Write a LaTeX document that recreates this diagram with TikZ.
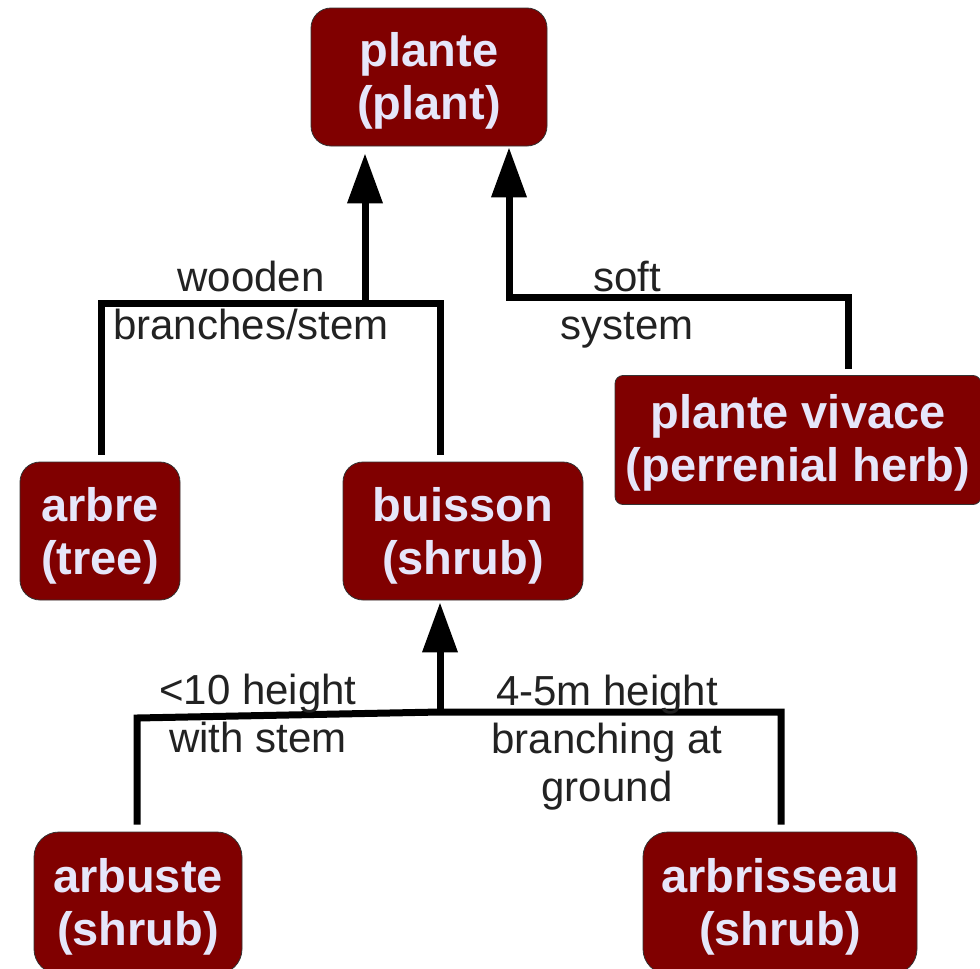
\documentclass[tikz,border=0pt]{standalone}
\usepackage{fontspec}
\setmainfont{Liberation Sans}
\usetikzlibrary{arrows.meta}
\definecolor{boxfill}{HTML}{800000}
\definecolor{boxtext}{HTML}{E6E6FA}
\definecolor{labeltext}{HTML}{222222}
% two centred lines, lowered a little inside their box
\newcommand\conceptlines[2][5pt]{\raisebox{-#1}[\height][\depth]{\begin{tabular}{@{}c@{}}#2\end{tabular}}}
\begin{document}
\begin{tikzpicture}[x=1pt,y=-1pt,
  concept/.style={draw=black!80, line width=0.8pt, fill=boxfill, rounded corners=20pt,
    inner sep=0pt, text=boxtext,
    font=\fontsize{47}{53}\selectfont\bfseries},
  edgelabel/.style={inner sep=0pt, align=center, text=labeltext,
    font=\fontsize{42}{48}\selectfont},
  conn/.style={line width=7pt, draw=black},
  arr/.style={conn, -{Triangle[width=34pt,length=50pt]}}]
\useasboundingbox (0,0) rectangle (980,969);

% concept boxes
\node[concept, minimum width=236pt, minimum height=138pt] (plante) at (429,77) {\conceptlines{plante\\(plant)}};
\node[concept, minimum width=160pt, minimum height=138pt] (arbre) at (100,531) {\conceptlines[6pt]{arbre\\(tree)}};
\node[concept, minimum width=240pt, minimum height=138pt] (buisson) at (463,531) {\conceptlines[6pt]{buisson\\(shrub)}};
\node[concept, rounded corners=8pt, minimum width=366pt, minimum height=129pt] (vivace) at (798,440) {\conceptlines[4pt]{plante vivace\\(perrenial herb)}};
\node[concept, rounded corners=25pt, minimum width=208pt, minimum height=142pt] (arbuste) at (138,903) {\conceptlines{arbuste\\(shrub)}};
\node[concept, rounded corners=25pt, minimum width=274pt, minimum height=142pt] (arbrisseau) at (780,903) {\conceptlines{arbrisseau\\(shrub)}};

% junction points
\coordinate (wl) at (101,303);
\coordinate (wm) at (365,303);
\coordinate (wr) at (440,303);
\coordinate (sl) at (509,297);
\coordinate (sr) at (848,297);
\coordinate (bl) at (137,718);
\coordinate (bm) at (440,712);
\coordinate (br) at (781,712);

% wooden branches/stem
\draw[conn, shorten <=7pt, shorten >=7pt] (wl |- arbre.north) -- (wl) -- (wr) -- (wr |- buisson.north);
\draw[arr, shorten >=7pt] (wm) -- (wm |- plante.south);

% soft system
\draw[arr, shorten <=6pt, shorten >=1pt] (sr |- vivace.north) -- (sr) -- (sl) -- (sl |- plante.south);

% shrub kinds
\draw[conn, shorten <=7pt, shorten >=7pt] (bl |- arbuste.north) -- (bl) -- (bm) -- (br) -- (br |- arbrisseau.north);
\draw[arr, shorten >=2pt] (bm) -- (bm |- buisson.south);

% edge labels
\node[edgelabel] (lwood) at (251,300) {wooden\\branches/stem};
\node[edgelabel] (lsoft) at (627,305) {soft\\system};
\node[edgelabel] (lstem) at (258,713) {<10 height\\with stem};
\node[edgelabel] (lground) at (607,743) {4-5m height\\branching at\\ground};
\end{tikzpicture}
\end{document}
